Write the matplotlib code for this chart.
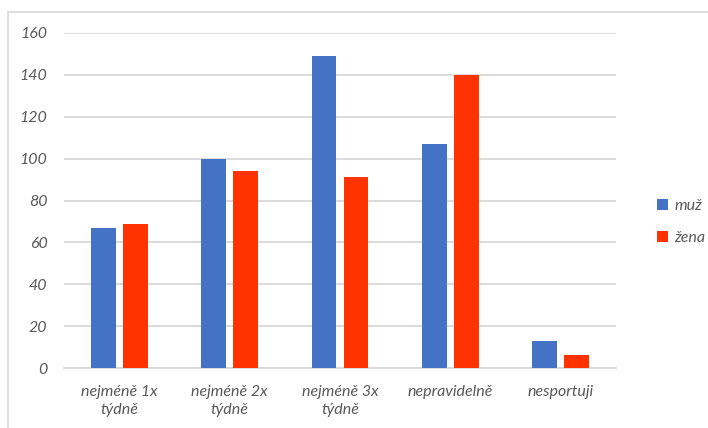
import numpy as np
import matplotlib.pyplot as plt
from matplotlib.patches import Rectangle

# Data
categories = ['nejméně 1x\ntýdně', 'nejméně 2x\ntýdně', 'nejméně 3x\ntýdně',
              'nepravidelně', 'nesportuji']
muz = [67, 100, 149, 107, 13]
zena = [69, 94, 91, 140, 6]
series_names = ['muž', 'žena']

blue = '#4472C4'
red = '#FF3300'
grid_col = '#D9D9D9'
text_col = '#595959'

plt.rcParams['font.family'] = ['Lato', 'DejaVu Sans']

fig = plt.figure(figsize=(7.08, 4.28), dpi=100)
ax = fig.add_axes([64/708, 1 - 368/428, (616-64)/708, (368-33)/428])

x = np.arange(len(categories))
w = 0.226
off = 0.145
ax.bar(x - off, muz, w, color=blue, label=series_names[0], zorder=3)
ax.bar(x + off, zena, w, color=red, label=series_names[1], zorder=3)

ax.set_xlim(-0.5, len(categories) - 0.5)
ax.set_ylim(0, 160)
ax.set_yticks(range(0, 161, 20))
ax.yaxis.grid(True, color=grid_col, lw=1.3, zorder=0)
ax.set_axisbelow(True)
for s in ['top', 'right', 'left']:
    ax.spines[s].set_visible(False)
ax.spines['bottom'].set_color(grid_col)
ax.spines['bottom'].set_linewidth(1.3)
ax.tick_params(axis='both', length=0, colors=text_col, labelsize=11.5)
ax.tick_params(axis='y', pad=12)
ax.tick_params(axis='x', pad=12)
ax.set_xticks(x)
ax.set_xticklabels(categories, style='italic', linespacing=1.4)
for lab in ax.get_yticklabels():
    lab.set_fontstyle('italic')

leg = fig.legend(loc='center left', bbox_to_anchor=(643/708, 1 - 222/428),
                 frameon=False, handlelength=0.65, handleheight=0.65,
                 handletextpad=0.4, labelspacing=1.1, fontsize=11.5)
for t in leg.get_texts():
    t.set_color(text_col)
    t.set_fontstyle('italic')

# outer chart frame
fig.patches.append(Rectangle((8/708, -0.01), 1.0, 1 - 12/428 + 0.01,
                             transform=fig.transFigure, fill=False,
                             edgecolor=grid_col, lw=1.2))

fig.savefig('out.png', dpi=100)
